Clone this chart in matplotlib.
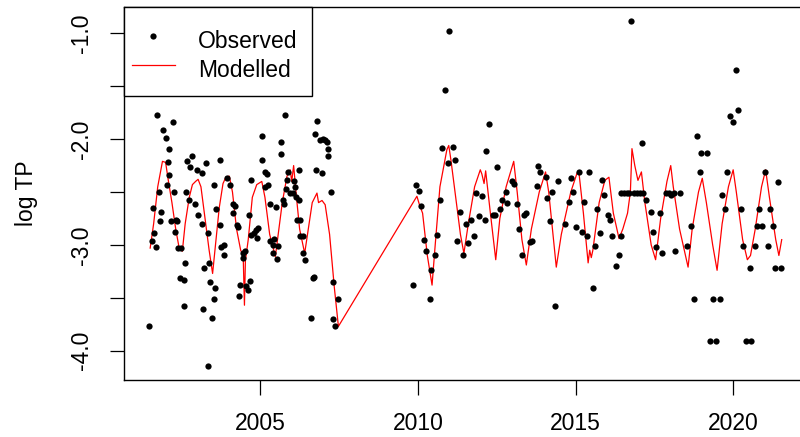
import matplotlib
matplotlib.use("Agg")
import matplotlib.pyplot as plt
from matplotlib.lines import Line2D
from matplotlib.patches import Rectangle

# Observed data (decimal year, log TP)
obs_year = [
    2001.48, 2001.58, 2001.61, 2001.63, 2001.69, 2001.72, 2001.78, 2001.83, 2001.84, 2001.92,
    2002.02, 2002.04, 2002.09, 2002.11, 2002.11, 2002.16, 2002.22, 2002.27, 2002.30, 2002.32,
    2002.37, 2002.40, 2002.46, 2002.50, 2002.57, 2002.57, 2002.60, 2002.65, 2002.67, 2002.73,
    2002.76, 2002.84, 2002.94, 2002.99, 2003.04, 2003.14, 2003.14, 2003.19, 2003.22, 2003.28,
    2003.33, 2003.33, 2003.38, 2003.41, 2003.47, 2003.52, 2003.52, 2003.57, 2003.61, 2003.72,
    2003.72, 2003.77, 2003.86, 2003.86, 2003.94, 2004.05, 2004.14, 2004.14, 2004.21, 2004.25,
    2004.29, 2004.33, 2004.37, 2004.44, 2004.44, 2004.52, 2004.56, 2004.61, 2004.63, 2004.68,
    2004.71, 2004.71, 2004.79, 2004.86, 2004.89, 2004.93, 2005.07, 2005.07, 2005.14, 2005.16,
    2005.21, 2005.26, 2005.30, 2005.30, 2005.39, 2005.42, 2005.45, 2005.50, 2005.53, 2005.58,
    2005.65, 2005.65, 2005.71, 2005.74, 2005.79, 2005.83, 2005.85, 2005.88, 2005.95, 2006.03,
    2006.06, 2006.09, 2006.13, 2006.16, 2006.22, 2006.24, 2006.27, 2006.27, 2006.35, 2006.37,
    2006.41, 2006.62, 2006.67, 2006.71, 2006.75, 2006.78, 2006.80, 2006.90, 2006.96, 2006.98,
    2007.06, 2007.12, 2007.14, 2007.14, 2007.24, 2007.30, 2007.30, 2007.38, 2007.47,
    2009.85, 2009.95, 2010.05, 2010.10, 2010.19, 2010.27, 2010.38, 2010.43, 2010.54, 2010.61,
    2010.71, 2010.77, 2010.85, 2010.95, 2011.00, 2011.11, 2011.19, 2011.24, 2011.35, 2011.43,
    2011.54, 2011.59, 2011.69, 2011.77, 2011.83, 2011.93, 2012.04, 2012.12, 2012.17, 2012.27,
    2012.38, 2012.46, 2012.51, 2012.60, 2012.67, 2012.78, 2012.83, 2012.97, 2013.04, 2013.13,
    2013.20, 2013.29, 2013.36, 2013.44, 2013.55, 2013.63, 2013.77, 2013.82, 2013.87, 2014.05,
    2014.10, 2014.18, 2014.26, 2014.34, 2014.45, 2014.68, 2014.79, 2014.87, 2014.93, 2015.02,
    2015.11, 2015.21, 2015.26, 2015.37, 2015.44, 2015.56, 2015.63, 2015.69, 2015.79, 2015.84,
    2015.90, 2016.03, 2016.09, 2016.17, 2016.28, 2016.38, 2016.43, 2016.45, 2016.53, 2016.62,
    2016.70, 2016.77, 2016.87, 2016.95, 2017.03, 2017.10, 2017.15, 2017.24, 2017.38, 2017.46,
    2017.54, 2017.67, 2017.73, 2017.86, 2017.95, 2018.02, 2018.12, 2018.17, 2018.31, 2018.54,
    2018.65, 2018.76, 2018.84, 2018.95, 2018.97, 2019.18, 2019.27, 2019.36, 2019.47, 2019.57,
    2019.66, 2019.73, 2019.80, 2019.90, 2020.00, 2020.10, 2020.15, 2020.24, 2020.32, 2020.40,
    2020.54, 2020.56, 2020.68, 2020.77, 2020.82, 2020.93, 2021.00, 2021.11, 2021.16, 2021.25,
    2021.34, 2021.41, 2021.51,
]
obs_logtp = [
    -3.77, -2.96, -2.65, -2.89, -3.02, -1.77, -2.50, -2.77, -2.69, -1.91,
    -1.99, -2.43, -2.22, -2.09, -2.34, -2.77, -1.84, -2.50, -2.88, -2.76,
    -2.77, -3.03, -3.31, -3.03, -3.33, -3.58, -3.17, -2.50, -2.21, -2.58,
    -2.26, -2.16, -2.61, -2.29, -2.72, -2.32, -2.80, -3.61, -3.22, -2.23,
    -2.89, -4.14, -3.17, -3.35, -3.69, -2.43, -3.51, -3.41, -2.66, -2.20,
    -2.81, -3.02, -3.00, -3.10, -2.37, -2.43, -2.61, -2.70, -2.63, -2.81,
    -2.83, -3.48, -3.38, -3.08, -3.12, -3.06, -3.39, -3.43, -2.72, -3.34,
    -2.39, -2.91, -2.89, -2.86, -2.93, -2.84, -1.97, -2.20, -2.45, -2.31,
    -2.33, -2.43, -2.61, -2.96, -3.00, -3.08, -2.94, -2.64, -3.13, -3.01,
    -2.03, -2.14, -2.58, -2.61, -1.77, -2.47, -2.39, -2.31, -2.51, -2.51,
    -2.40, -2.45, -2.55, -2.76, -2.29, -2.58, -2.76, -2.92, -3.08, -2.92,
    -3.14, -3.69, -3.31, -3.30, -1.95, -2.29, -1.83, -2.01, -2.32, -2.00,
    -2.01, -2.03, -2.09, -2.16, -2.50, -3.35, -3.70, -3.77, -3.51,
    -3.38, -2.43, -2.49, -2.63, -2.95, -3.06, -3.51, -3.24, -3.10, -2.91,
    -2.58, -2.08, -1.54, -2.23, -0.98, -2.07, -2.20, -2.96, -2.69, -3.10,
    -2.80, -2.98, -2.76, -2.92, -2.51, -2.73, -2.54, -2.76, -2.11, -1.86,
    -2.72, -2.72, -2.26, -2.66, -2.58, -2.50, -2.60, -2.40, -2.42, -2.61,
    -2.85, -3.10, -2.72, -2.70, -2.97, -2.96, -2.44, -2.25, -2.31, -2.36,
    -2.56, -2.77, -2.50, -3.58, -2.40, -2.80, -2.59, -2.37, -2.50, -2.83,
    -2.31, -2.88, -2.59, -2.92, -2.31, -3.41, -3.01, -2.66, -2.89, -2.39,
    -2.53, -2.72, -2.76, -2.92, -3.20, -3.10, -2.92, -2.51, -2.51, -2.51,
    -2.51, -0.88, -2.51, -2.51, -2.51, -2.04, -2.51, -2.58, -2.69, -2.88,
    -3.02, -2.70, -3.08, -2.51, -2.51, -2.53, -2.51, -3.06, -2.51, -3.01,
    -2.82, -3.51, -1.97, -2.31, -2.13, -2.13, -3.91, -3.51, -3.91, -3.51,
    -2.53, -2.66, -2.31, -1.78, -1.84, -1.35, -1.72, -2.66, -3.01, -3.91,
    -3.22, -3.91, -3.01, -2.82, -2.66, -2.82, -2.31, -3.01, -2.66, -2.82,
    -3.22, -2.41, -3.22,
]

# Modelled line (decimal year, log TP)
model_year = [
    2001.51, 2001.62, 2001.75, 2001.90, 2002.00, 2002.08, 2002.20, 2002.32, 2002.43, 2002.50,
    2002.53, 2002.62, 2002.75, 2002.85, 2002.95, 2003.03, 2003.12, 2003.25, 2003.38, 2003.49,
    2003.58, 2003.70, 2003.82, 2003.91, 2004.02, 2004.12, 2004.25, 2004.38, 2004.46, 2004.50,
    2004.53, 2004.62, 2004.75, 2004.89, 2005.05, 2005.15, 2005.30, 2005.48, 2005.55, 2005.70,
    2005.85, 2005.95, 2006.00, 2006.06, 2006.15, 2006.25, 2006.41, 2006.50, 2006.65, 2006.80,
    2006.85, 2006.96, 2007.06, 2007.20, 2007.35, 2007.48, 2009.97, 2010.05, 2010.15, 2010.30,
    2010.45, 2010.55, 2010.70, 2010.82, 2010.92, 2010.98, 2011.05, 2011.20, 2011.35, 2011.46,
    2011.60, 2011.80, 2011.98, 2012.03, 2012.10, 2012.15, 2012.30, 2012.47, 2012.60, 2012.80,
    2013.04, 2013.15, 2013.30, 2013.44, 2013.60, 2013.85, 2014.05, 2014.15, 2014.30, 2014.39,
    2014.55, 2014.85, 2015.05, 2015.11, 2015.25, 2015.40, 2015.45, 2015.50, 2015.55, 2015.75,
    2015.93, 2016.06, 2016.20, 2016.38, 2016.50, 2016.65, 2016.74, 2016.79, 2016.88, 2016.98,
    2017.09, 2017.20, 2017.40, 2017.54, 2017.70, 2017.90, 2018.02, 2018.10, 2018.30, 2018.57,
    2018.70, 2018.90, 2019.02, 2019.15, 2019.35, 2019.49, 2019.65, 2019.85, 2020.00, 2020.10,
    2020.30, 2020.45, 2020.55, 2020.70, 2020.90, 2021.03, 2021.15, 2021.35, 2021.45, 2021.54,
]
model_logtp = [
    -3.03, -2.80, -2.45, -2.21, -2.22, -2.38, -2.60, -2.85, -3.03, -3.03,
    -3.06, -2.80, -2.55, -2.43, -2.40, -2.38, -2.45, -2.75, -3.05, -3.27,
    -3.00, -2.65, -2.42, -2.36, -2.35, -2.50, -2.85, -3.05, -3.10, -3.57,
    -3.15, -2.95, -2.55, -2.43, -2.40, -2.55, -2.90, -3.11, -2.95, -2.60,
    -2.35, -2.29, -2.40, -2.25, -2.55, -2.85, -3.08, -2.90, -2.60, -2.51,
    -2.60, -2.58, -2.62, -2.90, -3.40, -3.77, -2.54, -2.62, -2.70, -3.10,
    -3.38, -3.00, -2.45, -2.26, -2.10, -2.06, -2.20, -2.55, -2.90, -3.08,
    -2.80, -2.45, -2.29, -2.33, -2.42, -2.30, -2.70, -3.14, -2.75, -2.45,
    -2.21, -2.50, -2.95, -3.19, -2.85, -2.50, -2.31, -2.50, -2.95, -3.21,
    -2.90, -2.50, -2.32, -2.32, -2.70, -3.17, -3.05, -3.12, -3.05, -2.60,
    -2.39, -2.36, -2.70, -2.94, -2.85, -2.70, -2.50, -2.09, -2.25, -2.39,
    -2.31, -2.60, -3.00, -3.14, -2.75, -2.40, -2.25, -2.45, -2.85, -3.21,
    -2.85, -2.50, -2.37, -2.60, -3.00, -3.24, -2.80, -2.45, -2.29, -2.50,
    -2.95, -3.14, -3.10, -2.85, -2.45, -2.29, -2.55, -2.95, -3.10, -2.95,
]

x_ticks = [2005, 2010, 2015, 2020]
y_ticks = [-4.0, -3.5, -3.0, -2.5, -2.0, -1.5, -1.0]
y_ticklabels = ["-4.0", "", "-3.0", "", "-2.0", "", "-1.0"]
legend_labels = ["Observed", "Modelled"]

plt.rcParams['font.family'] = ['Liberation Sans', 'DejaVu Sans']
FS = 16.5
MS = 4.5

W, H = 800, 437
fig = plt.figure(figsize=(W / 100, H / 100), dpi=100)


def fx(px):
    return px / W


def fy(py):
    return 1 - py / H


left_px, right_px, top_px, bottom_px = 124, 806, 7, 380
ax = fig.add_axes([fx(left_px), fy(bottom_px),
                   (right_px - left_px) / W, (bottom_px - top_px) / H])

ax.plot(model_year, model_logtp, color='red', lw=0.9, zorder=2)
ax.plot(obs_year, obs_logtp, 'o', color='black', markersize=MS,
        markeredgewidth=0, zorder=3)

ax.set_xlim(2000.68, 2022.31)
ax.set_ylim(-4.277, -0.751)

ax.set_xticks(x_ticks)
ax.set_xticklabels([str(t) for t in x_ticks], fontsize=FS)
ax.set_yticks(y_ticks)
ax.set_yticklabels(y_ticklabels, fontsize=FS, rotation=90, va='center')
ax.tick_params(axis='x', length=11, width=0.9, pad=12, colors='black')
ax.tick_params(axis='y', length=10, width=0.9, pad=12, colors='black')
for s in ax.spines.values():
    s.set_linewidth(1.0)
    s.set_color('black')

fig.text(fx(26), fy(193.5), "log TP", rotation=90, ha='center', va='center',
         fontsize=FS)

# Legend drawn in R style (box at top-left corner of the plot region)
fig.patches.append(Rectangle((fx(124), fy(96)), fx(312) - fx(124), fy(7) - fy(96),
                             transform=fig.transFigure, facecolor='white',
                             edgecolor='black', lw=1.0, zorder=5))
fig.lines.append(Line2D([fx(153)], [fy(36)], marker='o', color='black',
                        linestyle='none', markersize=MS, markeredgewidth=0,
                        transform=fig.transFigure, zorder=6))
fig.lines.append(Line2D([fx(132), fx(175)], [fy(65), fy(65)], color='red', lw=0.9,
                        transform=fig.transFigure, zorder=6))
fig.text(fx(198), fy(48), legend_labels[0], fontsize=FS, ha='left', va='baseline',
         zorder=6)
fig.text(fx(198), fy(77), legend_labels[1], fontsize=FS, ha='left', va='baseline',
         zorder=6)

fig.savefig("out.png", dpi=100)
